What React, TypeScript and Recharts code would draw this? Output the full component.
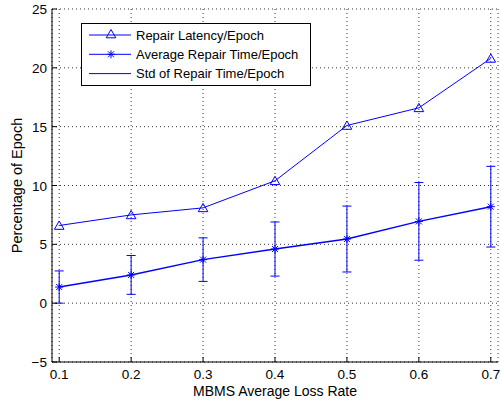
import React from 'react';
import {
  ComposedChart,
  Line,
  XAxis,
  YAxis,
  CartesianGrid,
  ErrorBar,
  Legend,
  Label,
} from 'recharts';

const lossRates = [0.1, 0.2, 0.3, 0.4, 0.5, 0.6, 0.7];
const repairLatency = [6.6, 7.5, 8.1, 10.4, 15.1, 16.6, 20.8];
const avgRepairTime = [1.37, 2.4, 3.7, 4.6, 5.45, 6.95, 8.2];
const stdRepairTime = [1.37, 1.65, 1.85, 2.3, 2.8, 3.3, 3.43];

const xTicks = [0.1, 0.2, 0.3, 0.4, 0.5, 0.6, 0.7];
const yTicks = [-5, 0, 5, 10, 15, 20, 25];

const legendLabels = [
  'Repair Latency/Epoch',
  'Average Repair Time/Epoch',
  'Std of Repair Time/Epoch',
];

const BLUE = '#0000ff';
const FONT = '"Liberation Sans", Arial, Helvetica, sans-serif';

const data = lossRates.map((x, i) => ({
  x,
  latency: repairLatency[i],
  avg: avgRepairTime[i],
  std: stdRepairTime[i],
}));

function Triangle({ cx, cy }: { cx: number; cy: number }) {
  if (cx == null || cy == null) return null;
  return (
    <path
      d={`M${cx},${cy - 4.5} L${cx + 4.8},${cy + 3.8} L${cx - 4.8},${cy + 3.8} Z`}
      fill="none"
      stroke={BLUE}
      strokeWidth={1}
    />
  );
}

function Asterisk({ cx, cy }: { cx: number; cy: number }) {
  if (cx == null || cy == null) return null;
  const r = 4;
  const d = 3;
  return (
    <path
      d={`M${cx},${cy - r} L${cx},${cy + r} M${cx - r},${cy} L${cx + r},${cy} M${cx - d},${cy - d} L${cx + d},${cy + d} M${cx - d},${cy + d} L${cx + d},${cy - d}`}
      stroke={BLUE}
      strokeWidth={1}
    />
  );
}

const BottomTick = (props: any) => {
  const { x, y, payload } = props;
  return (
    <g>
      <line x1={x} y1={y} x2={x} y2={y - 5} stroke="#000" />
      <text x={x} y={y + 16.5} textAnchor="middle" fontSize={13.5} fill="#000" fontFamily={FONT}>
        {payload.value}
      </text>
    </g>
  );
};

const TopTick = (props: any) => {
  const { x, y } = props;
  return <line x1={x} y1={y} x2={x} y2={y + 5} stroke="#000" />;
};

const LeftTick = (props: any) => {
  const { x, y, payload } = props;
  return (
    <g>
      <line x1={x} y1={y} x2={x + 5} y2={y} stroke="#000" />
      <text x={x - 5} y={y + 5} textAnchor="end" fontSize={13.5} fill="#000" fontFamily={FONT}>
        {payload.value < 0 ? '\u2212' + Math.abs(payload.value) : payload.value}
      </text>
    </g>
  );
};

const RightTick = (props: any) => {
  const { x, y } = props;
  return <line x1={x} y1={y} x2={x - 5} y2={y} stroke="#000" />;
};

const renderLegend = () => (
  <svg width={230} height={63} style={{ display: 'block' }}>
    <rect x={0.5} y={0.5} width={229} height={62} fill="#fff" stroke="#000" strokeWidth={1} />
    {legendLabels.map((label, i) => {
      const y = 12 + i * 19.3;
      return (
        <g key={label}>
          <line x1={8} y1={y} x2={50} y2={y} stroke={BLUE} strokeWidth={1} />
          {i === 0 && <Triangle cx={30} cy={y - 1} />}
          {i === 1 && <Asterisk cx={30} cy={y} />}
          <text x={55} y={y + 4.5} fontSize={13} fill="#000" fontFamily={FONT}>
            {label}
          </text>
        </g>
      );
    })}
  </svg>
);

export default function App() {
  return (
    <div style={{ position: 'absolute', left: 0, top: 0, fontFamily: FONT, background: '#fff' }}>
      <ComposedChart
        width={501}
        height={403}
        data={data}
        margin={{ top: 9, right: 3, bottom: 0, left: 0 }}
      >
        <CartesianGrid stroke="#333" strokeDasharray="1 3" strokeWidth={1} />
        <XAxis
          dataKey="x"
          type="number"
          domain={[0.09, 0.71]}
          ticks={xTicks}
          tickSize={0}
          tickMargin={0}
          tickLine={false}
          tick={BottomTick}
          axisLine={{ stroke: '#000' }}
          height={41}
          allowDataOverflow
        >
          <Label
            content={(p: any) => {
              const vb = p.viewBox;
              return (
                <text
                  x={vb.x + vb.width / 2}
                  y={vb.y + 34}
                  textAnchor="middle"
                  fontSize={14}
                  fill="#000"
                  fontFamily={FONT}
                >
                  MBMS Average Loss Rate
                </text>
              );
            }}
          />
        </XAxis>
        <XAxis
          xAxisId="top"
          orientation="top"
          type="number"
          domain={[0.09, 0.71]}
          ticks={xTicks}
          tickSize={0}
          tickMargin={0}
          tickLine={false}
          tick={TopTick}
          axisLine={{ stroke: '#000' }}
          height={0}
          allowDataOverflow
        />
        <YAxis
          type="number"
          domain={[-5, 25]}
          ticks={yTicks}
          tickSize={0}
          tickMargin={0}
          tickLine={false}
          tick={LeftTick}
          axisLine={{ stroke: '#000' }}
          width={52}
          allowDataOverflow
        >
          <Label
            content={(p: any) => {
              const vb = p.viewBox;
              const cx = 22;
              const cy = vb.y + vb.height / 2;
              return (
                <text
                  x={cx}
                  y={cy}
                  transform={`rotate(-90 ${cx} ${cy})`}
                  textAnchor="middle"
                  fontSize={14.5}
                  fill="#000"
                  fontFamily={FONT}
                >
                  Percentage of Epoch
                </text>
              );
            }}
          />
        </YAxis>
        <YAxis
          yAxisId="right"
          orientation="right"
          type="number"
          domain={[-5, 25]}
          ticks={yTicks}
          tickSize={0}
          tickMargin={0}
          tickLine={false}
          tick={RightTick}
          axisLine={{ stroke: '#000' }}
          width={0}
          allowDataOverflow
        />
        <Legend
          layout="vertical"
          align="center"
          verticalAlign="middle"
          content={renderLegend}
          wrapperStyle={{ position: 'absolute', left: 81, top: 23, width: 230, height: 63 }}
        />
        <Line
          dataKey="latency"
          stroke={BLUE}
          strokeWidth={1}
          dot={(p: any) => <Triangle key={`t-${p.index}`} cx={p.cx} cy={p.cy} />}
          activeDot={false}
          isAnimationActive={false}
        />
        <Line
          dataKey="avg"
          stroke={BLUE}
          strokeWidth={1.5}
          dot={(p: any) => <Asterisk key={`a-${p.index}`} cx={p.cx} cy={p.cy} />}
          activeDot={false}
          isAnimationActive={false}
        >
          <ErrorBar dataKey="std" width={4.5} stroke={BLUE} strokeWidth={1} direction="y" />
        </Line>
      </ComposedChart>
    </div>
  );
}
